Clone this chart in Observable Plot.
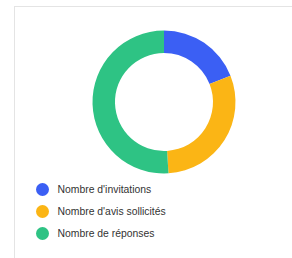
<!DOCTYPE html>
<html>
<head>
<meta charset="utf-8">
<script src="https://cdn.jsdelivr.net/npm/d3@7"></script>
<script src="https://cdn.jsdelivr.net/npm/@observablehq/plot@0.6"></script>
<style>
  html, body { margin: 0; padding: 0; background: #fff; }
  #wrap { position: relative; width: 292px; height: 258px; overflow: hidden; }
  #box { position: absolute; left: 14px; top: 6px; width: 400px; height: 400px; border: 1px solid #e4e4e4; box-sizing: border-box; }
  #chart { position: absolute; left: 0; top: 0; }
</style>
</head>
<body>
<div id="wrap"><div id="box"></div><div id="chart"></div></div>
<script>
const categories = ["Nombre d'invitations", "Nombre d'avis sollicités", "Nombre de réponses"];
const values = [19, 30, 51];
const colors = ["#3b5ff4", "#fbb515", "#2ec384"];

const data = categories.map((c, i) => ({category: c, value: values[i]}));

const donut = (index, scales, channels, dimensions, context) => {
  const color = scales.color || ((c) => colors[categories.indexOf(c)]);
  const pie = d3.pie().sort(null).value(d => d.value);
  const arc = d3.arc().innerRadius(49).outerRadius(71.5);
  const g = d3.create("svg:g").attr("transform", "translate(164,102)");
  g.selectAll("path").data(pie(data)).join("path")
    .attr("d", arc)
    .attr("fill", d => color(d.data.category));
  return g.node();
};

const chart = Plot.plot({
  width: 292,
  height: 258,
  margin: 0,
  x: {domain: [0, 292], range: [0, 292], axis: null},
  y: {type: "point", domain: categories, range: [188.5, 233], padding: 0, axis: null},
  color: {domain: categories, range: colors},
  style: {background: "transparent", fontFamily: "Helvetica, Arial, 'Liberation Sans', sans-serif"},
  marks: [
    donut,
    Plot.dot(data, {x: () => 42, y: "category", fill: "category", r: 6.5}),
    Plot.text(data, {x: () => 57, y: "category", text: "category", textAnchor: "start", fill: "#333", fontSize: 10.4})
  ]
});
document.getElementById("chart").appendChild(chart);
</script>
</body>
</html>
